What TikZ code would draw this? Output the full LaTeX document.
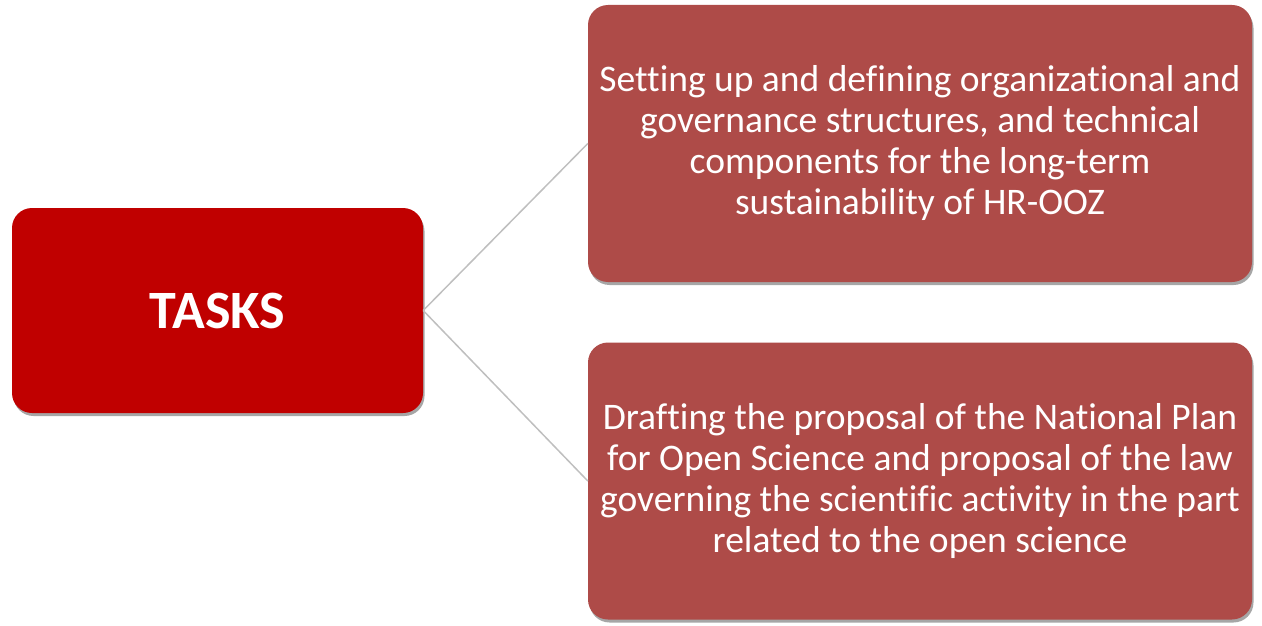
\documentclass[tikz,border=0pt]{standalone}
\usepackage{fontspec}
\setmainfont[Ligatures=CommonOff]{Carlito}
\usetikzlibrary{shadows}
\definecolor{taskred}{HTML}{C00000}
\definecolor{itemred}{HTML}{AE4B48}
\definecolor{linkgray}{HTML}{BFBFBF}
\tikzset{
  box/.style={rounded corners=20pt, inner sep=0pt, text=white, align=center,
    drop shadow={shadow xshift=1.5pt, shadow yshift=-3pt, opacity=0.35, fill=black}},
  mainbox/.style={box, fill=taskred, minimum width=411pt, minimum height=205pt,
    font=\fontsize{54pt}{60pt}\selectfont\bfseries},
  itembox/.style={box, fill=itemred, minimum width=664pt, minimum height=277pt,
    font=\fontsize{37.5pt}{41pt}\selectfont},
  link/.style={draw=linkgray, line width=1.5pt}
}
\begin{document}
\begin{tikzpicture}[x=1pt,y=-1pt]
\useasboundingbox (0,0) rectangle (1262,626);
\node[mainbox] (tasks) at (217.5,310.5) {TASKS};
\node[itembox] (t1) at (920,143.5) {Setting up and defining organizational and\\governance structures, and technical\\components for the long-term\\sustainability of HR-OOZ};
\node[itembox] (t2) at (920,481) {Drafting the proposal of the National Plan\\for Open Science and proposal of the law\\governing the scientific activity in the part\\related to the open science};
\draw[link] (tasks.east) -- (t1.west);
\draw[link] (tasks.east) -- (t2.west);
\end{tikzpicture}
\end{document}
